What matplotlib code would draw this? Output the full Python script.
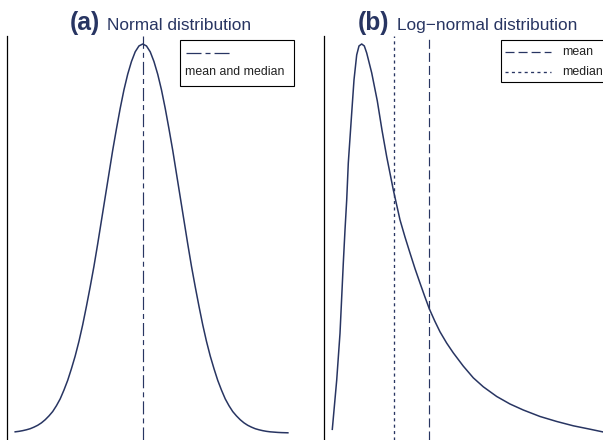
import matplotlib
matplotlib.use("Agg")
import matplotlib.pyplot as plt
from matplotlib.lines import Line2D
from matplotlib.patches import Rectangle

plt.rcParams['font.family'] = ['Liberation Sans', 'DejaVu Sans']
plt.rcParams['lines.scale_dashes'] = False

# Normal density (x in standard deviations)
norm_x = [-3.4, -3.3, -3.2, -3.1, -3.0, -2.9, -2.8, -2.7, -2.6, -2.5, -2.4, -2.3, -2.2, -2.1,
          -2.0, -1.9, -1.8, -1.7, -1.6, -1.5, -1.4, -1.3, -1.2, -1.1,
          -1.0, -0.9, -0.8, -0.7, -0.6, -0.5, -0.4, -0.3, -0.2, -0.1, 0.0,
          0.1, 0.2, 0.3, 0.4, 0.5, 0.6, 0.7, 0.8, 0.9, 1.0,
          1.1, 1.2, 1.3, 1.4, 1.5, 1.6, 1.7, 1.8, 1.9, 2.0, 2.1, 2.2, 2.3, 2.4,
          2.5, 2.6, 2.7, 2.8, 2.9, 3.0, 3.1, 3.2, 3.3, 3.4, 3.5, 3.6, 3.7, 3.87]
norm_y = [0.0012, 0.0017, 0.0024, 0.0033, 0.0044, 0.0060, 0.0079, 0.0104, 0.0136, 0.0175, 0.022, 0.028, 0.035, 0.044,
          0.054, 0.066, 0.079, 0.094, 0.111, 0.130, 0.150, 0.171, 0.194, 0.218,
          0.242, 0.266, 0.290, 0.312, 0.333, 0.352, 0.368, 0.381, 0.391, 0.397, 0.399,
          0.397, 0.391, 0.381, 0.368, 0.352, 0.333, 0.312, 0.290, 0.266, 0.242,
          0.218, 0.194, 0.171, 0.150, 0.130, 0.111, 0.094, 0.079, 0.066, 0.054, 0.044, 0.035, 0.028, 0.022,
          0.0175, 0.0136, 0.0104, 0.0079, 0.0060, 0.0044, 0.0033, 0.0024, 0.0017, 0.0012, 0.0009, 0.0006, 0.0004, 0.0002]
norm_center = 0.0

# Log-normal density (relative to its peak)
lnorm_x = [0.40, 0.62, 0.785, 0.95, 1.035, 1.12, 1.20, 1.37, 1.485, 1.62, 1.735, 1.87,
           2.0, 2.12, 2.37, 2.65, 2.885, 3.12, 3.45, 3.785, 4.035, 4.285, 4.535, 4.785,
           5.02, 5.25, 5.52, 5.785, 6.12, 6.45, 6.95, 7.45, 7.95, 8.62, 9.285, 9.95,
           10.785, 11.62, 12.45, 13.285, 13.95]
lnorm_y = [0.012, 0.138, 0.258, 0.438, 0.523, 0.600, 0.695, 0.823, 0.908, 0.972, 0.995, 1.0,
           0.995, 0.977, 0.926, 0.854, 0.779, 0.711, 0.626, 0.549, 0.505, 0.464, 0.424, 0.387,
           0.353, 0.321, 0.290, 0.262, 0.233, 0.208, 0.174, 0.144, 0.121, 0.0962, 0.0769, 0.0615,
           0.0449, 0.0321, 0.0210, 0.0123, 0.0051]
lnorm_median = 3.47
lnorm_mean = 5.25

navy = '#283562'
W, H = 603, 440


def fx(px):
    return px / W


def fy(py):
    return 1 - py / H


fig = plt.figure(figsize=(W / 100, H / 100), dpi=100)

# panel a
ax1 = fig.add_axes([fx(7.3), 0, (292 - 7.3) / W, (440 - 36) / H])
ax1.plot(norm_x, norm_y, color=navy, lw=1.1)
ax1.axvline(norm_center, color=navy, lw=0.85, dashes=(9.4, 2.9, 3.6, 2.9))
ax1.set_xlim(-3.61, 3.98)
ax1.set_ylim(-0.00718, 0.4072)

# panel b
ax2 = fig.add_axes([fx(324.3), 0, 285 / W, (440 - 36) / H])
ax2.plot(lnorm_x, lnorm_y, color=navy, lw=1.1)
ax2.axvline(lnorm_median, color=navy, lw=0.95, dashes=(2.2, 2.4))
ax2.axvline(lnorm_mean, color=navy, lw=0.85, dashes=(6.5, 2.9))
ax2.set_xlim(0, 14.25)
ax2.set_ylim(-0.0154, 1.0205)

for ax in (ax1, ax2):
    for s in ['top', 'right', 'bottom']:
        ax.spines[s].set_visible(False)
    ax.spines['left'].set_color('black')
    ax.spines['left'].set_linewidth(0.9)
    ax.set_xticks([])
    ax.set_yticks([])
    ax.patch.set_alpha(0)

# titles
fig.text(fx(70), fy(30), '(a)', fontsize=17.7, fontweight='bold', color=navy, va='baseline')
fig.text(fx(107), fy(30), 'Normal distribution', fontsize=12.4, color=navy, va='baseline')
fig.text(fx(358), fy(30), '(b)', fontsize=17.7, fontweight='bold', color=navy, va='baseline')
fig.text(fx(396.7), fy(30), 'Log\u2212normal distribution', fontsize=12.4, color=navy, va='baseline')

# legend boxes drawn by hand (the R layout puts the line above the label in panel a)
fig.add_artist(Rectangle((fx(179.5), fy(86.5)), (294 - 179.5) / W, (86.5 - 40.5) / H,
                         transform=fig.transFigure, facecolor='white', edgecolor='black', lw=0.8))
fig.add_artist(Line2D([fx(186), fx(230)], [fy(52.7), fy(52.7)], transform=fig.transFigure,
                      color=navy, lw=0.9, dashes=(10.8, 2.9, 3.6, 2.9)))
fig.text(fx(185), fy(71.7), 'mean and median', fontsize=8.9, color='#222222', va='center')

fig.add_artist(Rectangle((fx(500.5), fy(82.5)), (615 - 500.5) / W, (82.5 - 40.5) / H,
                         transform=fig.transFigure, facecolor='white', edgecolor='black', lw=0.8))
fig.add_artist(Line2D([fx(505), fx(551)], [fy(51.7), fy(51.7)], transform=fig.transFigure,
                      color=navy, lw=0.9, dashes=(6.5, 2.9)))
fig.add_artist(Line2D([fx(505), fx(551)], [fy(71.7), fy(71.7)], transform=fig.transFigure,
                      color=navy, lw=0.95, dashes=(2.2, 2.4)))
fig.text(fx(561.7), fy(51.7), 'mean', fontsize=8.9, color='#222222', va='center')
fig.text(fx(561.7), fy(71.7), 'median', fontsize=8.9, color='#222222', va='center')

fig.savefig('out.png', dpi=100)
